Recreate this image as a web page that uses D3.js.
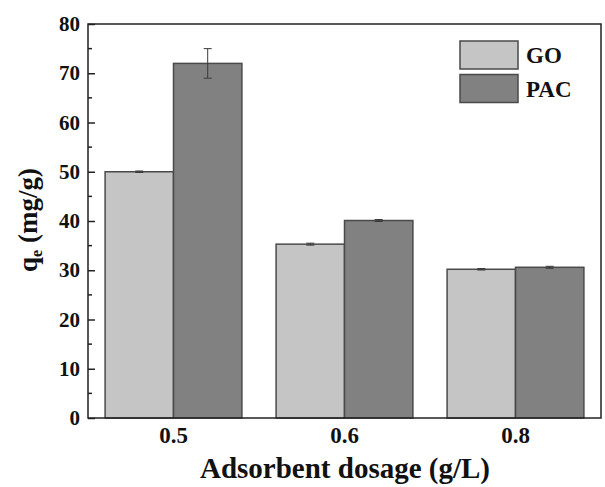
<!DOCTYPE html>
<html>
<head>
<meta charset="utf-8">
<script src="https://cdn.jsdelivr.net/npm/d3@7"></script>
<style>
  body { margin: 0; background: #fff; }
  svg text { font-family: 'Liberation Serif', 'Times New Roman', serif; font-weight: bold; fill: #111; }
</style>
</head>
<body>
<svg id="chart" width="605" height="487"></svg>
<script>
// data
const dosages = ['0.5', '0.6', '0.8']
const series = ['GO', 'PAC']
const goValues = [50.0, 35.3, 30.2]
const goErrors = [0.15, 0.2, 0.15]
const pacValues = [72.0, 40.1, 30.6]
const pacErrors = [3.0, 0.2, 0.2]
const yTicks = [0, 10, 20, 30, 40, 50, 60, 70, 80]

const colors = { GO: '#c5c5c5', PAC: '#818181' }

const svg = d3.select('#chart')
const margin = { top: 24, right: 4, bottom: 69, left: 88 }
const width = 605 - margin.left - margin.right
const height = 487 - margin.top - margin.bottom

const g = svg.append('g')
  .attr('transform', 'translate(' + margin.left + ',' + margin.top + ')')

// scales
const x = d3.scaleBand().domain(dosages).range([0, width])
  .paddingInner(0.2).paddingOuter(0.1)
const xSub = d3.scaleBand().domain(series).range([0, x.bandwidth()])
const y = d3.scaleLinear().domain([0, 80]).range([height, 0])

// build rows for bars
const rows = []
dosages.forEach(function (d, i) {
  rows.push({ dose: d, key: 'GO', value: goValues[i], err: goErrors[i] })
  rows.push({ dose: d, key: 'PAC', value: pacValues[i], err: pacErrors[i] })
})

// bars
g.selectAll('.bar')
  .data(rows)
  .enter()
  .append('rect')
  .attr('class', 'bar')
  .attr('x', d => x(d.dose) + xSub(d.key))
  .attr('y', d => y(d.value))
  .attr('width', xSub.bandwidth())
  .attr('height', d => height - y(d.value))
  .style('fill', d => colors[d.key])
  .style('stroke', '#4a4a4a')
  .style('stroke-width', 1.5)

// error bars
const errG = g.selectAll('.err')
  .data(rows)
  .enter()
  .append('g')
  .attr('class', 'err')
  .attr('transform', d => 'translate(' + (x(d.dose) + xSub(d.key) + xSub.bandwidth() / 2) + ',0)')
  .style('stroke', '#3a3a3a')
  .style('stroke-width', 1)
errG.append('line')
  .attr('y1', d => y(d.value + d.err))
  .attr('y2', d => y(d.value - d.err))
errG.append('line')
  .attr('x1', -4).attr('x2', 4)
  .attr('y1', d => y(d.value + d.err))
  .attr('y2', d => y(d.value + d.err))
errG.append('line')
  .attr('x1', -4).attr('x2', 4)
  .attr('y1', d => y(d.value - d.err))
  .attr('y2', d => y(d.value - d.err))

// frame
g.append('rect')
  .attr('width', width)
  .attr('height', height)
  .style('fill', 'none')
  .style('stroke', '#222')
  .style('stroke-width', 1.5)

// y axis, ticks pointing inward
const yAxis = g.append('g')
  .call(d3.axisLeft(y).tickValues(yTicks).tickSize(-7).tickPadding(8))
yAxis.select('.domain').remove()
yAxis.selectAll('.tick line').style('stroke', '#222').style('stroke-width', 1.5)
yAxis.selectAll('.tick text').style('font-size', '21px')

// minor y ticks
g.selectAll('.minor')
  .data(d3.range(5, 80, 10))
  .enter()
  .append('line')
  .attr('class', 'minor')
  .attr('x1', 0).attr('x2', 4)
  .attr('y1', d => y(d)).attr('y2', d => y(d))
  .style('stroke', '#222')
  .style('stroke-width', 1.5)

// x axis, no tick marks
const xAxis = g.append('g')
  .attr('transform', 'translate(0,' + height + ')')
  .call(d3.axisBottom(x).tickSize(0).tickPadding(9))
xAxis.select('.domain').remove()
xAxis.selectAll('.tick text').style('font-size', '23px')

// axis titles
svg.append('text')
  .attr('x', 345)
  .attr('y', 478)
  .attr('text-anchor', 'middle')
  .style('font-size', '29px')
  .text('Adsorbent dosage (g/L)')

const yTitle = svg.append('text')
  .attr('transform', 'translate(37,220) rotate(-90)')
  .attr('text-anchor', 'middle')
  .style('font-size', '27px')
yTitle.append('tspan').text('q')
yTitle.append('tspan').attr('dy', 5).style('font-size', '16px').text('e')
yTitle.append('tspan').attr('dy', -5).text(' (mg/g)')

// legend
const legend = svg.selectAll('.legend')
  .data(series)
  .enter()
  .append('g')
  .attr('class', 'legend')
  .attr('transform', (d, i) => 'translate(460,' + (41 + i * 33.5) + ')')
legend.append('rect')
  .attr('width', 58)
  .attr('height', 28)
  .style('fill', d => colors[d])
  .style('stroke', '#4a4a4a')
  .style('stroke-width', 1.5)
legend.append('text')
  .attr('x', 66)
  .attr('y', 22)
  .style('font-size', '23px')
  .text(d => d)
</script>
</body>
</html>
